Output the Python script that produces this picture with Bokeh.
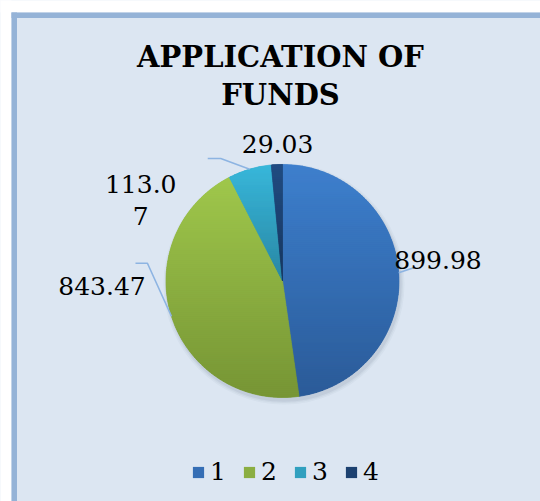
import numpy as np
from bokeh.plotting import figure
from bokeh.models import Range1d, ColumnDataSource, Legend, LegendItem
from bokeh.core.properties import value
from bokeh.embed import file_html
from bokeh.resources import INLINE

# ---------------- data ----------------
categories = ["1", "2", "3", "4"]
amounts = [899.98, 843.47, 113.07, 29.03]
data_labels = ["899.98", "843.47", "113.0\n7", "29.03"]
title_lines = ["APPLICATION OF", "FUNDS"]

# ---------------- style / layout ----------------
top_colors = ["#3E80CE", "#A0C74C", "#38B7DA", "#214C82"]
bot_colors = ["#2B5B98", "#769535", "#2987A3", "#17365E"]
mid_colors = ["#356EB5", "#8BAE42", "#31A0BF", "#1C4170"]
FILL = "#DCE6F2"
FONT = "DejaVu Serif"
PAGE_H = 501
W, H = 540, 501
TXT_SHIFT = 9.0  # compensation for text baseline placement

def Y(py):
    return PAGE_H - py

cx, cy, R = 282.0, Y(280.5), 116.5

# label nudges relative to the rim point at each slice's mid angle (px)
label_nudge = [(39.3, 4.0), (-69.5, 21.0), (-109.0, -24.0), (0.7, 12.0)]
LINE_GAP = 32.0
# leader lines: elbow and end relative to rim point (None = no leader)
leader_elbow = [(15.0, 5.0), (-24.0, 53.0), (-29.0, 10.7), None]
leader_end = [(15.0, 5.0), (-36.0, 53.0), (-42.0, 10.7), None]

p = figure(width=W, height=H, x_range=Range1d(0, W), y_range=Range1d(0, H),
           output_backend="svg", toolbar_location=None, min_border=0)
p.axis.visible = False
p.grid.visible = False
p.outline_line_color = None
p.background_fill_color = FILL
p.border_fill_color = FILL

# white page margin (left/top) + chart border
p.quad(left=[-20, -20], right=[11.0, W + 20], top=[H + 20, H + 20], bottom=[-20, Y(12.0)],
       fill_color="white", line_color=None)
p.multi_line(xs=[[13.75, 13.75], [11.0, W + 10]], ys=[[-10, Y(12.0)], [Y(14.8), Y(14.8)]],
             line_color="#95B3D7", line_width=5.5)

# title
for i, t in enumerate(title_lines):
    p.text(x=[280], y=[Y(65 + 38 * i) + TXT_SHIFT], text=[t], text_font=value(FONT),
           text_font_size="29px", text_font_style="bold", text_align="center",
           text_baseline="alphabetic", text_color="#000000")

# pie geometry from data
vals = np.array(amounts, dtype=float)
fr = vals / vals.sum()
cum = np.concatenate([[0.0], np.cumsum(fr)]) * 2 * np.pi  # clockwise from top
theta_s, theta_e = cum[:-1], cum[1:]
theta_m = (theta_s + theta_e) / 2

# soft shadow
for r_add, a in [(4, 0.04), (2.5, 0.05), (1.2, 0.07)]:
    p.circle(x=[cx + 1.5], y=[cy - 3], radius=R + r_add, fill_color="#3B4A5E",
             fill_alpha=a, line_color=None)

src = ColumnDataSource(dict(
    cat=categories, x=[cx] * 4, y=[cy] * 4,
    sa=list(np.pi / 2 - theta_e), ea=list(np.pi / 2 - theta_s), color=mid_colors))
wedges = p.wedge(x="x", y="y", radius=R, start_angle="sa", end_angle="ea",
                 direction="anticlock", fill_color="color", line_color=None, source=src)


def hex2rgb(h):
    h = h.lstrip("#")
    return np.array([int(h[i:i + 2], 16) for i in (0, 2, 4)], dtype=float)


def rgb2hex(c):
    c = np.clip(np.round(c), 0, 255).astype(int)
    return "#%02x%02x%02x" % tuple(c)


def clip_half(pts, inside, inter):
    out = []
    n = len(pts)
    for i in range(n):
        a, b = pts[i], pts[(i + 1) % n]
        ia, ib = inside(a), inside(b)
        if ia:
            out.append(a)
        if ia != ib:
            out.append(inter(a, b))
    return out


def ix(a, b, yc):
    t = (yc - a[1]) / (b[1] - a[1])
    return (a[0] + t * (b[0] - a[0]), yc)


def clip_strip(poly, y0, y1):
    p1 = clip_half(poly, lambda q: q[1] >= y0, lambda a, b: ix(a, b, y0))
    if len(p1) < 3:
        return []
    p2 = clip_half(p1, lambda q: q[1] <= y1, lambda a, b: ix(a, b, y1))
    return p2 if len(p2) >= 3 else []


sx, sy, sc = [], [], []
for i in range(len(vals)):
    n = max(8, int(np.degrees(theta_e[i] - theta_s[i]) * 2))
    th = np.linspace(theta_s[i], theta_e[i], n)
    poly = [(cx, cy)] + [(cx + R * np.sin(t), cy + R * np.cos(t)) for t in th]
    ys_ = [q[1] for q in poly]
    ytop, ybot = max(ys_), min(ys_)
    c0, c1 = hex2rgb(top_colors[i]), hex2rgb(bot_colors[i])
    step = 2.0
    yb = ybot
    while yb < ytop:
        ya = min(yb + step, ytop)
        piece = clip_strip(poly, yb, ya)
        if piece:
            t = (ytop - (yb + ya) / 2) / (ytop - ybot)
            col = rgb2hex(c0 + (c1 - c0) * t)
            sx.append([q[0] for q in piece])
            sy.append([q[1] for q in piece])
            sc.append(col)
        yb = ya
p.patches(xs=sx, ys=sy, fill_color=sc, line_color=sc, line_width=0.7)

# leader lines & labels
rim_x = cx + R * np.sin(theta_m)
rim_y = cy + R * np.cos(theta_m)
lx, ly = [], []
for i in range(len(vals)):
    if leader_elbow[i] is None:
        continue
    lx.append([rim_x[i], rim_x[i] + leader_elbow[i][0], rim_x[i] + leader_end[i][0]])
    ly.append([rim_y[i], rim_y[i] + leader_elbow[i][1], rim_y[i] + leader_end[i][1]])
p.multi_line(xs=lx, ys=ly, line_color="#8DB4E2", line_width=1.5)

tx, ty, tt = [], [], []
for i, lab in enumerate(data_labels):
    for k, part in enumerate(lab.split("\n")):
        tx.append(rim_x[i] + label_nudge[i][0])
        ty.append(rim_y[i] + label_nudge[i][1] - k * LINE_GAP + TXT_SHIFT)
        tt.append(part)
p.text(x=tx, y=ty, text=tt, text_font=value(FONT), text_font_size="25px",
       text_align="center", text_baseline="alphabetic", text_color="#000000")

legend = Legend(items=[LegendItem(label=c, renderers=[wedges], index=i)
                       for i, c in enumerate(categories)],
                orientation="horizontal", location=(191, 15),
                glyph_width=14, glyph_height=14, label_standoff=5,
                label_width=16, spacing=16, padding=0, margin=0,
                label_text_font=FONT, label_text_font_size="25px",
                label_text_color="#000000",
                background_fill_alpha=0, border_line_alpha=0)
p.add_layout(legend)

open("out.html", "w").write(file_html(p, INLINE))
